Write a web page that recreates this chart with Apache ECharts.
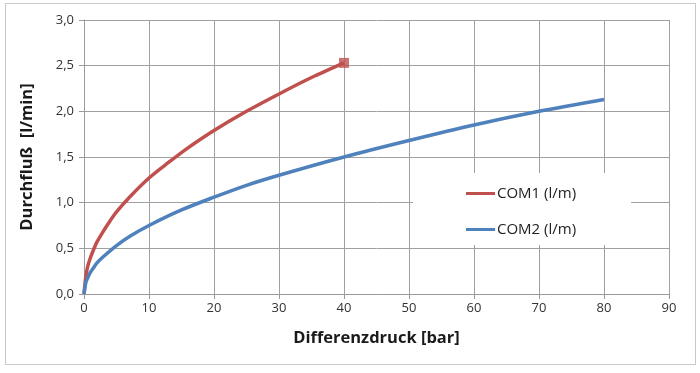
<!DOCTYPE html>
<html><head><meta charset="utf-8">
<script src="https://cdn.jsdelivr.net/npm/echarts@6/dist/echarts.min.js"></script>
<style>html,body{margin:0;padding:0;background:#fff}#c{width:700px;height:373px}
#frame{position:absolute;left:5px;top:3px;width:689px;height:360px;border:1px solid #c8c8c8;pointer-events:none}</style>
</head><body><div id="c"></div><div id="frame"></div>
<script>
const xTitle = 'Differenzdruck [bar]';
const yTitle = 'Durchfluß  [l/min]';
const com1Name = 'COM1 (l/m)';
const com2Name = 'COM2 (l/m)';
const com1X = [0, 0.3, 0.6, 1, 1.5, 2, 3, 4, 5, 7, 10, 13, 16, 20, 25, 30, 35, 40];
const com1Y = [0, 0.2, 0.31, 0.4, 0.49, 0.57, 0.69, 0.8, 0.9, 1.06, 1.27, 1.44, 1.6, 1.79, 2.0, 2.19, 2.37, 2.53];
const com2X = [0, 0.3, 0.6, 1, 1.5, 2, 3, 5, 7, 10, 15, 20, 25, 30, 40, 50, 60, 70, 80];
const com2Y = [0, 0.13, 0.18, 0.24, 0.29, 0.34, 0.41, 0.53, 0.63, 0.75, 0.92, 1.06, 1.19, 1.3, 1.5, 1.68, 1.85, 2.0, 2.13];
const red = '#C0504D', blue = '#4F81BD';
const pairs = (xs, ys) => xs.map((x, i) => [x, ys[i]]);
const chart = echarts.init(document.getElementById('c'));
chart.setOption({
  animation: false,
  grid: {left: 84, right: 31, top: 20, bottom: 79},
  xAxis: {type: 'value', min: 0, max: 90, interval: 10,
    name: xTitle, nameLocation: 'middle', nameGap: 36,
    nameTextStyle: {fontFamily: 'Open Sans', fontWeight: 'bold', fontSize: 16.5, color: '#1a1a1a'},
    axisLine: {show: true, lineStyle: {color: '#9a9a9a'}},
    axisTick: {show: true, length: 5, lineStyle: {color: '#9a9a9a'}},
    axisLabel: {fontFamily: 'Open Sans', fontSize: 13, color: '#333', margin: 8},
    splitLine: {show: true, lineStyle: {color: '#a0a0a0', width: 1}}},
  yAxis: {type: 'value', min: 0, max: 3, interval: 0.5,
    name: yTitle, nameLocation: 'middle', nameGap: 48,
    nameTextStyle: {fontFamily: 'Open Sans', fontWeight: 'bold', fontSize: 16.5, color: '#1a1a1a'},
    axisLine: {show: true, lineStyle: {color: '#9a9a9a'}},
    axisTick: {show: true, length: 5, lineStyle: {color: '#9a9a9a'}},
    axisLabel: {fontFamily: 'Open Sans', fontSize: 13, color: '#333', margin: 10,
      formatter: v => v.toFixed(1).replace('.', ',')},
    splitLine: {show: true, lineStyle: {color: '#a0a0a0', width: 1}}},
  legend: {data: [com1Name, com2Name], orient: 'vertical', left: 413, top: 173,
    backgroundColor: '#fff', padding: [13, 55, 8, 53], itemGap: 21,
    icon: 'rect', itemWidth: 29, itemHeight: 3,
    textStyle: {fontFamily: 'Open Sans', fontSize: 15, color: '#222', padding: [0, 0, 0, -3]}},
  series: [
    {name: com1Name, type: 'line', data: pairs(com1X, com1Y), showSymbol: false, symbol: 'none', smooth: 0.3,
      lineStyle: {color: red, width: 3.5}, itemStyle: {color: red}, z: 3},
    {name: com2Name, type: 'line', data: pairs(com2X, com2Y), showSymbol: false, symbol: 'none', smooth: 0.3,
      lineStyle: {color: blue, width: 3.5}, itemStyle: {color: blue}, z: 3},
    {name: 'end', type: 'scatter', data: [[com1X[com1X.length-1], com1Y[com1Y.length-1]]],
      symbol: 'rect', symbolSize: 10, itemStyle: {color: red}, z: 4}
  ]
});
</script></body></html>
